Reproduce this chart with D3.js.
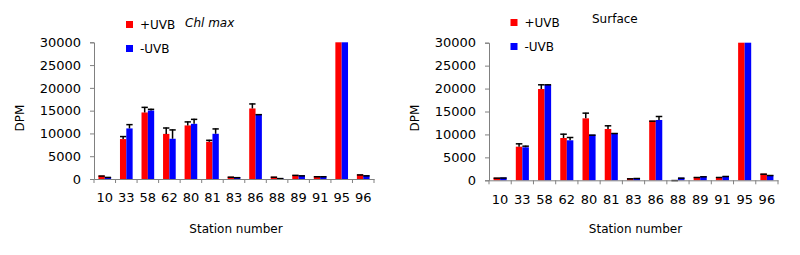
<!DOCTYPE html>
<html>
<head>
<meta charset="utf-8">
<script src="https://cdn.jsdelivr.net/npm/d3@7"></script>
<style>
  html, body { margin: 0; padding: 0; background: #fff; }
  svg { display: block; }
  .tick text { font-family: "DejaVu Sans", Verdana, sans-serif; font-size: 13px; fill: #000; }
  .lbl { font-family: "Comic Sans MS", "DejaVu Sans", sans-serif; font-size: 12px; fill: #000; }
</style>
</head>
<body>
<svg id="chart" width="800" height="255"></svg>
<script>
// station categories shared by both panels
const stations = ["10", "33", "58", "62", "80", "81", "83", "86", "88", "89", "91", "95", "96"];
const seriesNames = ["+UVB", "-UVB"];
const seriesColors = ["#ff0000", "#0000ff"];
const yTicks = [0, 5000, 10000, 15000, 20000, 25000, 30000];

// Chl max panel
const chlPlus = [750, 8760, 14600, 9900, 11760, 8170, 500, 15480, 500, 900, 600, 30000, 1000];
const chlPlusErr = [0, 660, 1230, 1400, 880, 430, 0, 1100, 0, 0, 0, 0, 0];
const chlMinus = [450, 11100, 15040, 8830, 12110, 9920, 400, 14230, 200, 800, 600, 30000, 800];
const chlMinusErr = [0, 940, 360, 2050, 1090, 1180, 0, 0, 0, 0, 0, 0, 0];

// Surface panel
const surfPlus = [570, 7330, 19900, 9220, 13510, 11180, 430, 13000, 50, 720, 720, 30000, 1440];
const surfPlusErr = [0, 730, 1030, 940, 1240, 810, 0, 0, 0, 0, 0, 0, 0];
const surfMinus = [600, 7200, 20780, 8720, 9950, 10310, 500, 13150, 570, 870, 940, 30000, 1150];
const surfMinusErr = [0, 350, 150, 720, 0, 0, 0, 870, 0, 0, 0, 0, 0];

const svg = d3.select("#chart");

function drawPanel(opts) {
    const g = svg.append("g");

    const x = d3.scaleBand()
        .domain(stations)
        .range([opts.left, opts.right])
        .paddingInner(0)
        .paddingOuter(0);

    const xs = d3.scaleBand()
        .domain(seriesNames)
        .range([0, x.bandwidth()])
        .paddingInner(0)
        .paddingOuter(0.7);

    const y = d3.scaleLinear()
        .domain([0, 30000])
        .range([opts.bottom, opts.top]);

    // bars
    const series = [
        { name: seriesNames[0], color: seriesColors[0], values: opts.plus, err: opts.plusErr },
        { name: seriesNames[1], color: seriesColors[1], values: opts.minus, err: opts.minusErr }
    ];

    series.forEach(s => {
        const rows = stations.map((st, i) => ({ st: st, v: s.values[i], e: s.err[i] }));

        g.append("g").selectAll("rect")
            .data(rows)
            .join("rect")
            .attr("x", d => x(d.st) + xs(s.name))
            .attr("y", d => y(d.v))
            .attr("width", xs.bandwidth())
            .attr("height", d => y(0) - y(d.v))
            .attr("fill", s.color);

        // error bars (upper only), skipped for off-scale bars
        const eb = g.append("g")
            .attr("stroke", "#000")
            .attr("stroke-width", 1.5);
        const withErr = rows.filter(d => d.v < 30000);
        eb.selectAll("line.v")
            .data(withErr)
            .join("line")
            .attr("class", "v")
            .attr("x1", d => x(d.st) + xs(s.name) + xs.bandwidth() / 2)
            .attr("x2", d => x(d.st) + xs(s.name) + xs.bandwidth() / 2)
            .attr("y1", d => y(d.v))
            .attr("y2", d => y(d.v + d.e));
        eb.selectAll("line.c")
            .data(withErr)
            .join("line")
            .attr("class", "c")
            .attr("x1", d => x(d.st) + xs(s.name))
            .attr("x2", d => x(d.st) + xs(s.name) + xs.bandwidth())
            .attr("y1", d => y(d.v + d.e) + 0.5)
            .attr("y2", d => y(d.v + d.e) + 0.5);
    });

    // y axis
    const yAxis = g.append("g")
        .attr("transform", `translate(${opts.left},0)`)
        .call(d3.axisLeft(y).tickValues(yTicks).tickSize(4).tickPadding(9).tickFormat(d3.format("d")));
    yAxis.selectAll("path, line").attr("stroke", "#808080");

    // x axis: labels centred in bands, ticks on band boundaries
    const xAxis = g.append("g")
        .attr("transform", `translate(0,${opts.bottom})`)
        .call(d3.axisBottom(x).tickSizeInner(0).tickSizeOuter(0).tickPadding(14));
    xAxis.select(".domain").attr("stroke", "#808080");
    const bounds = stations.map(s => x(s)).concat([x.range()[1]]);
    xAxis.selectAll("line.bound")
        .data(bounds)
        .join("line")
        .attr("class", "bound")
        .attr("x1", d => d)
        .attr("x2", d => d)
        .attr("y1", 0)
        .attr("y2", 4)
        .attr("stroke", "#808080");

    // axis titles
    g.append("text")
        .attr("class", "lbl")
        .attr("x", (opts.left + opts.right) / 2 + 2)
        .attr("y", 229)
        .attr("dy", "0.35em")
        .attr("text-anchor", "middle")
        .text("Station number");

    g.append("text")
        .attr("class", "lbl")
        .attr("transform", `translate(${opts.left - 74},118) rotate(-90)`)
        .attr("dy", "0.35em")
        .attr("text-anchor", "middle")
        .text("DPM");

    // panel title
    g.append("text")
        .attr("class", "lbl")
        .attr("x", opts.titleX)
        .attr("y", opts.titleY)
        .attr("dy", "0.35em")
        .style("font-style", opts.titleItalic ? "italic" : "normal")
        .text(opts.title);

    // legend
    const leg = g.append("g").selectAll("g")
        .data(series)
        .join("g")
        .attr("transform", (d, i) => `translate(${opts.legX},${opts.legY + i * 24})`);
    leg.append("rect")
        .attr("x", 0)
        .attr("y", -3.5)
        .attr("width", 7)
        .attr("height", 7)
        .attr("fill", d => d.color);
    leg.append("text")
        .attr("class", "lbl")
        .attr("x", 14)
        .attr("y", 0)
        .attr("dy", "0.35em")
        .text(d => d.name);
}

drawPanel({
    left: 94, right: 374, top: 42.3, bottom: 179,
    plus: chlPlus, plusErr: chlPlusErr, minus: chlMinus, minusErr: chlMinusErr,
    title: "Chl max", titleX: 185, titleY: 23, titleItalic: true,
    legX: 126, legY: 24.5
});

drawPanel({
    left: 489, right: 778, top: 42.7, bottom: 180.3,
    plus: surfPlus, plusErr: surfPlusErr, minus: surfMinus, minusErr: surfMinusErr,
    title: "Surface", titleX: 592, titleY: 19, titleItalic: false,
    legX: 510.5, legY: 22.5
});
</script>
</body>
</html>
